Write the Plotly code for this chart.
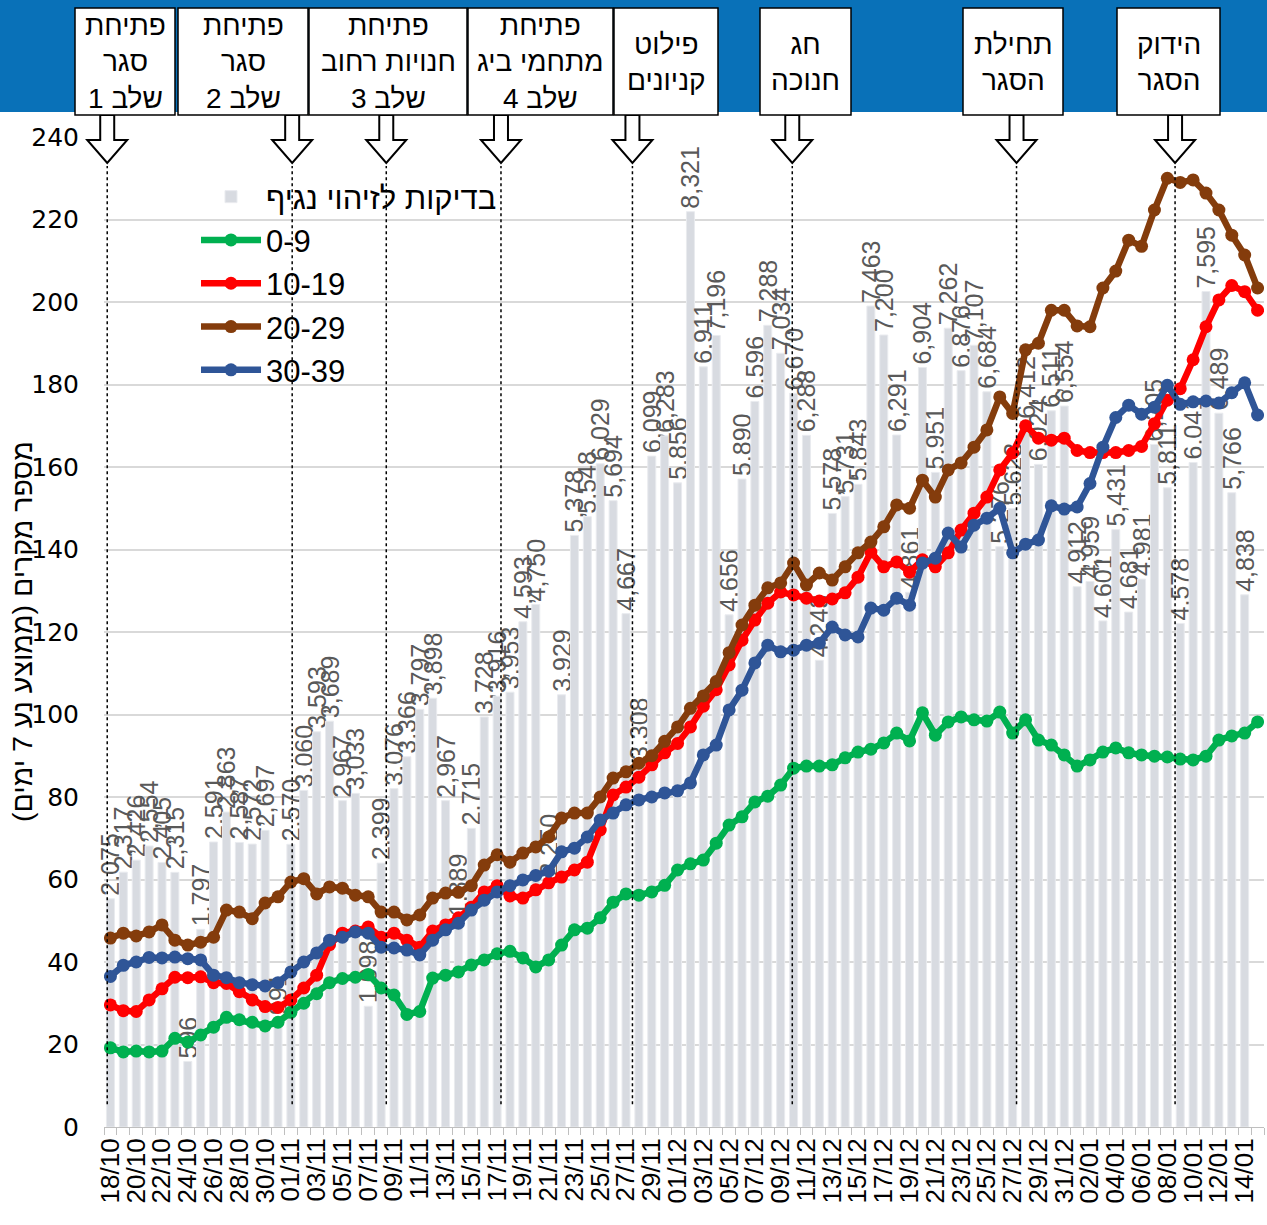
import plotly.graph_objects as go
import pandas as pd

# ---- data -------------------------------------------------------------
dates = list(pd.date_range("2020-10-18", "2021-01-15").strftime("%d/%m"))

# tests for virus detection (last day not reported)
tests = [2075, 2317, 2426, 2554, 2405, 2315, 596, 1797, 2591, 2863,
         2587, 2572, 2697, 991, 2570, 3060, 3593, 3689, 2967, 3033,
         1098, 2399, 3076, 3366, 3797, 3898, 2967, 1889, 2715, 3728,
         3916, 3953, 4593, 4750, 2250, 3929, 5378, 5548, 6029, 5694,
         4667, 3308, 6099, 6283, 5856, 8321, 6911, 7196, 4656, 5890,
         6596, 7288, 7034, 6670, 6288, 4243, 5578, 5731, 5843, 7463,
         7200, 6291, 4861, 6904, 5951, 7262, 6876, 7107, 6684, 5276,
         5623, 6412, 6024, 6511, 6554, 4912, 4959, 4601, 5431, 4681,
         4981, 6205, 5811, 4578, 6041, 7595, 6489, 5766, 4838, None]

age_0_9 = [19.2, 18.2, 18.4, 18.2, 18.4, 21.5, 20.6, 22.3, 24.2, 26.6,
           26.0, 25.4, 24.5, 25.4, 27.8, 30.0, 32.3, 35.0, 36.0, 36.3,
           37.0, 33.7, 32.0, 27.3, 28.0, 36.1, 36.8, 37.6, 39.3, 40.5,
           42.0, 42.6, 41.0, 38.8, 40.5, 44.1, 47.8, 48.2, 50.7, 54.5,
           56.5, 56.2, 57.0, 58.6, 62.3, 63.8, 64.7, 68.8, 73.2, 75.2,
           78.8, 80.2, 82.9, 87.0, 87.5, 87.5, 87.8, 89.5, 90.9, 91.6,
           93.1, 95.5, 93.6, 100.4, 95.0, 98.2, 99.4, 98.7, 98.4, 100.6,
           95.5, 98.7, 93.8, 92.6, 90.2, 87.5, 89.0, 90.9, 91.9, 90.7,
           90.2, 89.9, 89.7, 89.2, 89.0, 89.9, 93.8, 94.8, 95.5, 98.2]

age_10_19 = [29.6, 28.2, 28.0, 30.8, 33.5, 36.3, 36.2, 36.4, 35.0, 34.8,
             32.8, 30.8, 29.2, 29.0, 30.8, 33.7, 36.8, 44.2, 47.0, 47.5,
             48.5, 46.0, 47.0, 45.3, 43.6, 47.5, 49.0, 50.7, 53.3, 57.0,
             58.5, 56.0, 55.5, 57.5, 59.2, 60.6, 62.3, 64.2, 72.0, 80.5,
             82.4, 84.8, 87.8, 90.7, 93.0, 97.0, 102.0, 106.0, 112.0, 118.0,
             122.9, 127.0, 129.7, 129.0, 128.2, 127.5, 128.0, 129.5, 133.3, 139.4,
             135.8, 137.0, 134.5, 137.5, 135.8, 139.2, 144.7, 148.8, 152.7, 159.3,
             163.4, 170.0, 167.0, 166.5, 167.0, 164.0, 163.5, 163.5, 163.5, 164.0,
             165.0, 170.5, 176.2, 179.0, 186.0, 194.0, 200.5, 204.0, 202.5, 198.0]

age_20_29 = [45.8, 47.0, 46.3, 47.3, 49.0, 45.3, 44.1, 44.8, 46.0, 52.6,
             52.1, 50.5, 54.3, 55.8, 59.4, 60.2, 56.5, 58.2, 57.9, 56.2,
             55.8, 52.1, 52.1, 50.2, 51.4, 55.5, 56.7, 56.9, 58.5, 63.5,
             66.0, 64.2, 66.4, 67.9, 70.3, 74.9, 76.1, 76.1, 80.0, 84.6,
             86.1, 88.2, 90.0, 93.5, 97.0, 101.5, 104.5, 108.0, 115.0, 121.7,
             126.5, 130.7, 131.9, 136.7, 131.4, 134.3, 132.6, 135.8, 139.2, 141.8,
             145.5, 150.8, 150.0, 156.8, 152.7, 159.3, 161.0, 164.8, 169.0, 177.0,
             173.0, 188.4, 190.0, 198.0, 198.0, 194.2, 194.0, 203.4, 207.5, 215.0,
             213.5, 222.3, 230.0, 229.0, 229.6, 226.4, 222.3, 216.2, 211.4, 203.4]

age_30_39 = [36.5, 39.2, 40.0, 41.1, 41.0, 41.2, 40.8, 40.5, 36.8, 36.2,
             35.0, 34.5, 34.2, 35.0, 37.6, 40.0, 42.2, 45.3, 46.0, 47.3,
             47.0, 43.6, 43.4, 42.9, 41.7, 45.3, 47.8, 49.4, 52.6, 55.0,
             57.0, 58.5, 59.9, 61.0, 62.0, 66.7, 67.6, 70.3, 74.4, 76.1,
             78.1, 79.3, 80.0, 81.0, 81.5, 83.4, 90.2, 92.6, 101.1, 105.9,
             112.5, 116.8, 115.2, 115.6, 116.8, 117.3, 121.2, 119.3, 118.8, 125.8,
             125.3, 128.2, 126.5, 136.7, 137.9, 144.0, 140.6, 145.9, 147.6, 150.0,
             139.2, 141.3, 142.3, 150.6, 149.8, 150.3, 156.0, 164.8, 172.0, 175.0,
             172.8, 174.5, 179.8, 175.2, 175.8, 176.0, 175.5, 178.0, 180.4, 172.6]

series_names = ["0-9", "10-19", "20-29", "30-39"]
series_values = [age_0_9, age_10_19, age_20_29, age_30_39]
series_colors = ["#00B050", "#FF0000", "#843C0C", "#2F5597"]

# events (label lines, day index of the arrow)
event_labels = [["פתיחת", "סגר", "שלב 1"],
                ["פתיחת", "סגר", "שלב 2"],
                ["פתיחת", "חנויות רחוב", "שלב 3"],
                ["פתיחת", "מתחמי ביג", "שלב 4"],
                ["פילוט", "קניונים"],
                ["חג", "חנוכה"],
                ["תחילת", "הסגר"],
                ["הידוק", "הסגר"]]
event_days = [-0.25, 14.1, 21.4, 30.3, 40.5, 52.9, 70.3, 82.6]

y_title = "מספר מקרים (ממוצע נע 7 ימים)"

# ---- layout helpers (pixel geometry of the page) -----------------------
W, H = 1267, 1225
L, R, T, B = 104, 3, 137, 98
PW, PH = W - L - R, H - T - B
N = len(dates)


def px_x(px):
    return (px - L) / PW


def px_y(py):
    return (H - B - py) / PH


def day_x(d):
    return (d + 0.5) / N


def rtl(s):
    return "\u202b" + s + "\u202c"


box_px = [(75, 175), (178, 308), (309, 467), (468, 613),
          (614, 718), (760, 851), (963, 1063), (1117, 1220)]

idx = list(range(N))
fig = go.Figure()

fig.add_trace(go.Bar(
    x=idx, y=tests, name="בדיקות לזיהוי נגיף", yaxis="y",
    marker=dict(color="#D8DBE1", line=dict(color="#E9EBEF", width=1)),
    width=0.62,
    text=[f"{v:,}" if v is not None else "" for v in tests],
    textposition="outside", textangle=-90, constraintext="none",
    cliponaxis=False,
    textfont=dict(family="Liberation Sans, Arial", size=25, color="#595959"),
))

for name, vals, col in zip(series_names, series_values, series_colors):
    fig.add_trace(go.Scatter(
        x=idx, y=vals, name=name, yaxis="y2", mode="lines+markers",
        line=dict(color=col, width=6.5), marker=dict(color=col, size=13),
    ))

shapes = []
# blue banner
shapes.append(dict(type="rect", xref="paper", yref="paper",
                   x0=px_x(-2), x1=px_x(W + 2), y0=px_y(112), y1=px_y(-2),
                   fillcolor="#0971B8", line=dict(width=0), layer="above"))

# dotted event lines
for d in event_days:
    shapes.append(dict(type="line", xref="x", yref="y2", x0=d, x1=d, y0=5.5, y1=233,
                       line=dict(color="black", width=1.5, dash="dot"), layer="above"))

# hollow down arrows
for d in event_days:
    cx = day_x(d)
    sw, hw = 7 / PW, 20 / PW
    yt, ym, yb = px_y(115), px_y(140), px_y(163)
    path = (f"M {cx - sw} {yt} L {cx + sw} {yt} L {cx + sw} {ym} L {cx + hw} {ym} "
            f"L {cx} {yb} L {cx - hw} {ym} L {cx - sw} {ym} Z")
    shapes.append(dict(type="path", xref="paper", yref="paper", path=path,
                       fillcolor="white", line=dict(color="black", width=2), layer="above"))

# event boxes
for x0, x1 in box_px:
    shapes.append(dict(type="rect", xref="paper", yref="paper",
                       x0=px_x(x0), x1=px_x(x1), y0=px_y(115), y1=px_y(8),
                       fillcolor="white", line=dict(color="black", width=1.5), layer="above"))

annotations = []
for (x0, x1), lines in zip(box_px, event_labels):
    annotations.append(dict(
        xref="paper", yref="paper", x=px_x((x0 + x1) / 2), y=px_y(62),
        xanchor="center", yanchor="middle", showarrow=False,
        text="<br>".join(rtl(s) for s in lines),
        font=dict(family="Liberation Sans, Arial", size=28, color="black"),
    ))

# y axis title, placed like the original
annotations.append(dict(
    xref="paper", yref="paper", x=px_x(22), y=px_y(632),
    xanchor="center", yanchor="middle", showarrow=False, textangle=-90,
    text=rtl(y_title),
    font=dict(family="Liberation Sans, Arial", size=28.5, color="black"),
))

fig.update_layout(
    width=W, height=H,
    margin=dict(l=L, r=R, t=T, b=B, autoexpand=False),
    paper_bgcolor="white", plot_bgcolor="white",
    showlegend=True,
    legend=dict(x=px_x(196), y=px_y(170), xanchor="left", yanchor="top",
                bgcolor="rgba(0,0,0,0)", itemwidth=60,
                font=dict(family="Liberation Sans, Arial", size=31, color="black"),
                tracegroupgap=0),
    xaxis=dict(range=[-0.5, N - 0.5], tickmode="array", automargin=False,
               tickvals=idx[::2], ticktext=dates[::2], tickangle=-90,
               tickfont=dict(family="Liberation Sans, Arial", size=26, color="black"),
               showgrid=False, showline=True, linecolor="#BFBFBF", linewidth=1,
               ticks="", zeroline=False,
               minor=dict(ticks="outside", tick0=-0.5, dtick=1, ticklen=7,
                          tickcolor="#BFBFBF", showgrid=False)),
    yaxis=dict(range=[0, 9000], visible=False, showgrid=False, automargin=False),
    yaxis2=dict(range=[0, 240], overlaying="y", side="left", dtick=20, automargin=False,
                showgrid=True, gridcolor="#D9D9D9", gridwidth=1.5, zeroline=False,
                ticklabelstandoff=24,
                tickfont=dict(family="DejaVu Sans", size=25, color="black")),
    shapes=shapes,
    annotations=annotations,
    bargap=0.3,
)

# the page's default body margin would shift the whole figure by 8px
fig.write_html("out.html", config={"displayModeBar": False},
               post_script="document.body.style.margin = '0';")
